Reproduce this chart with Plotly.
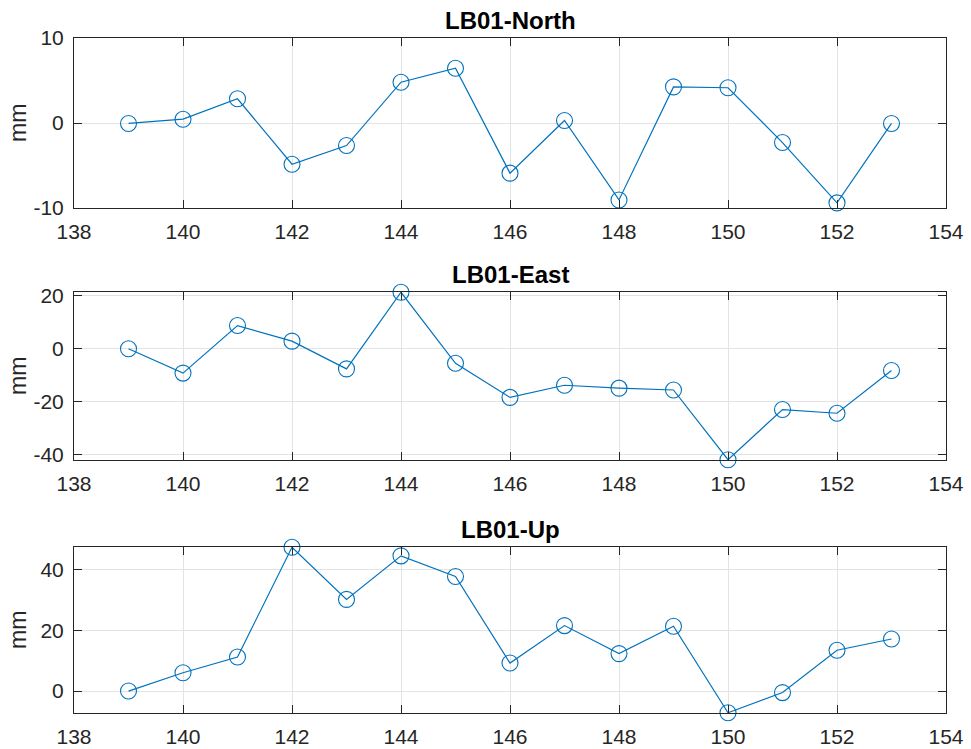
import plotly.graph_objects as go

days = [139, 140, 141, 142, 143, 144, 145, 146, 147, 148, 149, 150, 151, 152, 153]
north = [-0.05, 0.45, 2.85, -4.85, -2.65, 4.8, 6.45, -5.9, 0.3, -9.05, 4.25, 4.15, -2.3, -9.4, -0.05]
east = [0.0, -9.2, 8.8, 2.9, -7.6, 21.4, -5.5, -18.4, -13.8, -14.9, -15.6, -42.0, -23.0, -24.4, -8.2]
up = [0.0, 6.0, 11.2, 47.2, 30.1, 44.4, 37.6, 9.2, 21.5, 12.3, 21.3, -7.1, -0.5, 13.4, 17.1]

titles = ["LB01-North", "LB01-East", "LB01-Up"]
ylabel = "mm"
x_ticks = [138, 140, 142, 144, 146, 148, 150, 152, 154]
y_ticks = [[-10, 0, 10], [-40, -20, 0, 20], [0, 20, 40]]
y_ranges = [[-10, 10], [-42.1, 21.5], [-7.2, 47.3]]

series = [north, east, up]

W, H = 971, 749
ml, mr, mt, mb = 74, 25, 38, 36
ph = H - mt - mb
# pixel tops/bottoms of each axes box
boxes = [(38, 208), (292, 460), (547, 713)]
domains = [[(H - mb - b) / ph, (H - mb - t) / ph] for t, b in boxes]

FONT = "Liberation Sans, Arial, Helvetica, sans-serif"
AX = "#262626"
LINE = "#0072BD"

fig = go.Figure()
for i, ys in enumerate(series):
    xa = "x" if i == 0 else f"x{i+1}"
    ya = "y" if i == 0 else f"y{i+1}"
    fig.add_trace(go.Scatter(
        x=days, y=ys, mode="lines+markers", xaxis=xa, yaxis=ya,
        line=dict(color=LINE, width=1.2),
        marker=dict(symbol="circle-open", size=16, color=LINE, line=dict(width=1.1, color=LINE)),
        showlegend=False, hoverinfo="x+y", cliponaxis=False,
    ))

layout = dict(
    width=W, height=H,
    margin=dict(l=ml, r=mr, t=mt, b=mb, autoexpand=False),
    paper_bgcolor="white", plot_bgcolor="white",
    font=dict(family=FONT, color=AX, size=21),
    annotations=[],
)
for i in range(3):
    xk = "xaxis" if i == 0 else f"xaxis{i+1}"
    yk = "yaxis" if i == 0 else f"yaxis{i+1}"
    ya = "y" if i == 0 else f"y{i+1}"
    xa = "x" if i == 0 else f"x{i+1}"
    layout[xk] = dict(
        domain=[0, 1], anchor=ya, range=[138, 154], automargin=False,
        tickvals=x_ticks, ticktext=[str(v) for v in x_ticks],
        ticks="inside", ticklen=8, tickwidth=1, tickcolor=AX,
        showline=True, linecolor=AX, linewidth=1, mirror="ticks",
        showgrid=True, gridcolor="#e3e3e3", gridwidth=1, zeroline=False,
        tickfont=dict(size=21, color=AX, family=FONT),
        ticklabelstandoff=5,
    )
    layout[yk] = dict(
        domain=domains[i], anchor=xa, range=y_ranges[i], automargin=False,
        tickvals=y_ticks[i], ticktext=[str(v) for v in y_ticks[i]],
        ticks="inside", ticklen=8, tickwidth=1, tickcolor=AX,
        showline=True, linecolor=AX, linewidth=1, mirror="ticks",
        showgrid=True, gridcolor="#e3e3e3", gridwidth=1, zeroline=False,
        tickfont=dict(size=21, color=AX, family=FONT),
        ticklabelstandoff=5,
    )
    layout["annotations"].append(dict(
        text=f"<b>{titles[i]}</b>", xref="paper", yref="paper",
        x=0.5, y=domains[i][1], xanchor="center", yanchor="bottom",
        yshift=2, showarrow=False, font=dict(size=24, color="black", family=FONT),
    ))
    layout["annotations"].append(dict(
        text=ylabel, xref="paper", yref="paper",
        x=0, y=sum(domains[i]) / 2, xanchor="center", yanchor="middle",
        xshift=-56, textangle=-90, showarrow=False,
        font=dict(size=23, color=AX, family=FONT),
    ))

fig.update_layout(**layout)
fig.write_html("out.html")
